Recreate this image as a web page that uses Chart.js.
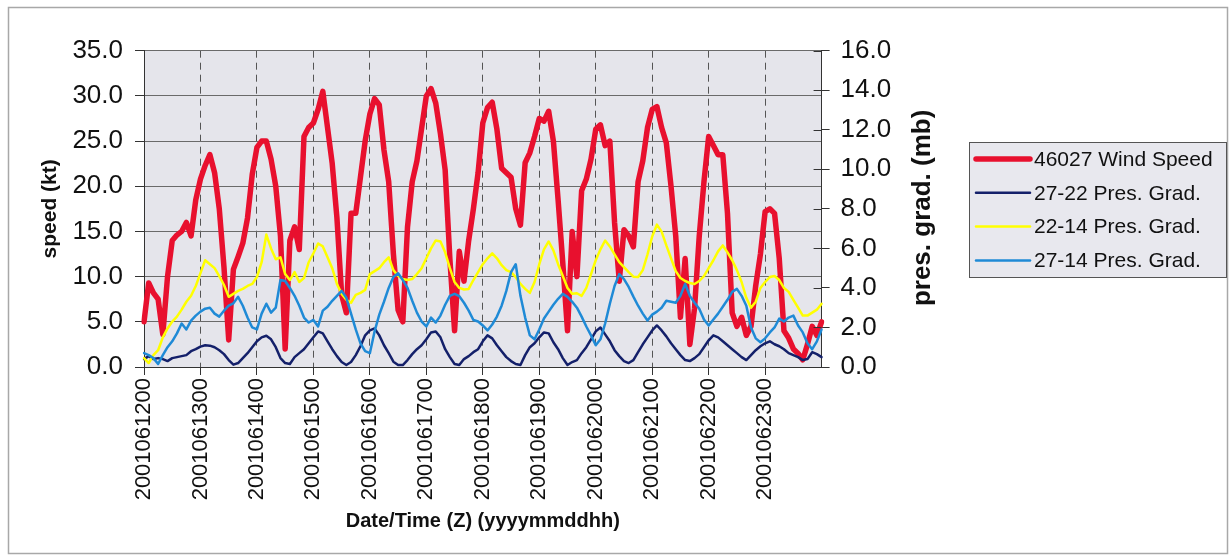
<!DOCTYPE html>
<html>
<head>
<meta charset="utf-8">
<script src="https://cdn.jsdelivr.net/npm/chart.js@4.4.1/dist/chart.umd.min.js"></script>
<style>
  html, body { margin: 0; padding: 0; background: #ffffff; }
  #wrap { width: 1232px; height: 560px; }
</style>
</head>
<body>
<div id="wrap"><canvas id="c" width="1232" height="560"></canvas></div>
<script>
// ---- tick labels (one per day) ----
const dayLabels = ['2001061200','2001061300','2001061400','2001061500','2001061600','2001061700',
                   '2001061800','2001061900','2001062000','2001062100','2001062200','2001062300'];
const hourLabels = ['00','02','04','06','08','10','12','14','16','18','20','22'];
const endLabel = '2001062400';

// ---- series values (every 2 hours) ----
const windSpeed = [ // kt
  5.0, 9.3, 8.2, 7.5, 3.6, 10.0, 14.0, 14.6, 15.0, 16.0, 14.5, 18.5,
  20.8, 22.3, 23.5, 21.5, 17.5, 11.0, 3.0, 10.8, 12.2, 13.7, 16.5, 21.3,
  24.3, 25.0, 25.0, 23.0, 20.0, 14.5, 2.0, 14.0, 15.5, 13.0, 25.5, 26.5,
  27.0, 28.5, 30.5, 26.5, 22.5, 16.5, 8.0, 6.0, 17.0, 17.0, 21.0, 25.0,
  28.0, 29.7, 29.0, 24.0, 20.5, 12.5, 6.3, 5.0, 15.5, 20.5, 22.8, 26.4,
  30.0, 30.8, 29.2, 25.8, 21.8, 12.0, 4.0, 12.8, 9.5, 14.0, 17.5, 21.5,
  27.0, 28.7, 29.3, 26.3, 22.0, 21.5, 21.0, 17.5, 15.7, 22.6, 23.7, 25.5,
  27.5, 27.2, 28.3, 25.0, 18.5, 11.5, 4.0, 15.0, 10.0, 19.5, 20.8, 23.0,
  26.3, 26.8, 24.5, 25.0, 16.0, 9.5, 15.2, 14.5, 13.3, 20.5, 22.8, 26.5,
  28.5, 28.8, 26.5, 24.8, 20.0, 14.5, 5.5, 12.0, 2.5, 6.5, 14.5, 20.5,
  25.5, 24.5, 23.5, 23.5, 17.0, 6.0, 4.5, 5.5, 3.5, 4.5, 9.0, 12.5,
  17.2, 17.5, 17.0, 12.0, 4.0, 3.2, 2.0, 1.5, 0.8, 2.5, 4.5, 3.5,
  5.0
];
const grad2722 = [ // mb
  0.4, 0.55, 0.4, 0.45, 0.4, 0.3, 0.45, 0.5, 0.55, 0.6, 0.8, 0.9,
  1.03, 1.1, 1.08, 1.0, 0.85, 0.65, 0.35, 0.12, 0.2, 0.45, 0.7, 1.0,
  1.3, 1.5, 1.58, 1.4, 1.0, 0.45, 0.2, 0.15, 0.5, 0.7, 0.9, 1.2,
  1.5, 1.8, 1.7, 1.3, 0.9, 0.55, 0.25, 0.1, 0.25, 0.6, 1.05, 1.6,
  1.85, 1.95, 1.6, 1.1, 0.7, 0.27, 0.1, 0.1, 0.35, 0.65, 0.9, 1.1,
  1.4, 1.75, 1.8, 1.5, 0.9, 0.5, 0.15, 0.1, 0.4, 0.55, 0.75, 0.9,
  1.3, 1.6, 1.45, 1.1, 0.8, 0.5, 0.3, 0.15, 0.1, 0.6, 1.0, 1.2,
  1.5, 1.75, 1.7, 1.25, 0.9, 0.45, 0.1, 0.25, 0.35, 0.7, 1.0, 1.4,
  1.8, 2.0, 1.65, 1.3, 0.85, 0.55, 0.3, 0.2, 0.35, 0.75, 1.15, 1.5,
  1.85, 2.1, 1.85, 1.55, 1.2, 0.9, 0.6, 0.35, 0.3, 0.45, 0.65, 1.0,
  1.35, 1.6, 1.5, 1.3, 1.1, 0.9, 0.7, 0.5, 0.35, 0.6, 0.85, 1.05,
  1.2, 1.3, 1.15, 1.05, 0.9, 0.7, 0.6, 0.5, 0.35, 0.4, 0.75, 0.65,
  0.5
];
const grad2214 = [ // mb
  0.45, 0.2, 0.6, 0.85, 1.5, 1.95, 2.3, 2.55, 2.9, 3.3, 3.6, 4.1,
  4.75, 5.4, 5.2, 5.0, 4.6, 4.15, 3.55, 3.7, 3.85, 3.95, 4.1, 4.2,
  4.55, 5.3, 6.7, 6.0, 5.45, 5.55, 4.7, 4.4, 4.8, 4.3, 4.5, 5.3,
  5.75, 6.25, 6.1, 5.55, 5.0, 4.2, 3.7, 3.4, 3.25, 3.65, 3.75, 3.9,
  4.7, 4.85, 5.0, 5.3, 5.55, 4.9, 4.6, 4.45, 4.4, 4.45, 4.7, 5.0,
  5.5, 6.0, 6.4, 6.35, 5.8, 5.0, 4.3, 4.0, 3.92, 3.95, 4.4, 4.8,
  5.2, 5.5, 5.75, 5.5, 5.15, 4.9, 4.8, 4.55, 4.2, 3.95, 3.75, 4.3,
  5.2, 5.95, 6.35, 5.9, 5.2, 4.6, 4.0, 3.7, 3.73, 3.6, 4.0, 4.7,
  5.4, 5.95, 6.4, 6.1, 5.7, 5.3, 5.05, 4.8, 4.57, 4.55, 4.9, 5.7,
  6.6, 7.2, 6.85, 6.15, 5.5, 4.85, 4.5, 4.35, 4.25, 4.2, 4.35, 4.6,
  5.0, 5.4, 5.85, 6.15, 5.8, 5.4, 4.9, 4.3, 3.5, 3.0, 3.3, 4.0,
  4.3, 4.55, 4.6, 4.4, 4.0, 3.8, 3.4, 3.0, 2.6, 2.6, 2.75, 2.9,
  3.2
];
const grad2714 = [ // mb
  0.7, 0.6, 0.45, 0.15, 0.6, 1.0, 1.3, 1.7, 2.2, 1.9, 2.35, 2.6,
  2.8, 2.95, 3.0, 2.7, 2.55, 2.85, 3.1, 3.22, 3.55, 3.1, 2.5, 2.0,
  1.9, 2.7, 3.2, 2.75, 3.0, 4.4, 4.35, 4.0, 3.6, 3.1, 2.5, 2.25,
  2.38, 2.05, 2.85, 3.05, 3.35, 3.6, 3.85, 3.5, 2.7, 1.9, 1.2, 0.8,
  0.7, 1.8, 2.65, 3.3, 4.0, 4.55, 4.74, 4.4, 4.0, 3.35, 2.75, 2.3,
  2.05, 2.5, 2.25, 2.6, 3.15, 3.6, 3.7, 3.58, 3.25, 2.85, 2.38, 2.3,
  2.1, 1.85, 2.15, 2.55, 3.1, 3.85, 4.8, 5.2, 3.6, 2.5, 1.6, 1.4,
  1.9, 2.45, 2.8, 3.15, 3.45, 3.7, 3.55, 3.3, 3.0, 2.55, 2.05, 1.6,
  1.1, 1.4, 2.2, 3.2, 4.1, 4.7, 4.45, 4.05, 3.56, 3.1, 2.7, 2.35,
  2.65, 2.8, 3.0, 3.35, 3.3, 3.25, 3.6, 4.2, 3.6, 3.25, 2.95, 2.4,
  2.1, 2.4, 2.7, 3.05, 3.4, 3.8, 3.95, 3.6, 3.1, 2.0, 1.45, 1.25,
  1.45, 1.75, 2.0, 2.45, 2.3, 2.5, 2.6, 2.1, 1.75, 1.2, 0.9, 1.3,
  1.9
];

// ---- categories: yyyymmddhh every 2 hours ----
const categories = [];
dayLabels.forEach(d => hourLabels.forEach(h => categories.push(d.slice(0, 8) + h)));
categories.push(endLabel);
const perDay = hourLabels.length;

const rightTitle = 'pres. grad. (mb)';
const FONT = '"Liberation Sans", Arial, Helvetica, sans-serif';
const TXT = '#111111';

const decorPlugin = {
  id: 'decor',
  beforeDraw(chart) {
    const { ctx, chartArea: a } = chart;
    ctx.save();
    ctx.fillStyle = '#ffffff';
    ctx.fillRect(0, 0, chart.width, chart.height);
    ctx.strokeStyle = '#a8a8a8';
    ctx.lineWidth = 1.5;
    ctx.strokeRect(8.5, 7.5, 1219, 546);
    ctx.fillStyle = '#e5e5eb';
    ctx.fillRect(a.left, a.top, a.right - a.left, a.bottom - a.top);
    ctx.restore();
  },
  afterDraw(chart) {
    const { ctx, chartArea: a } = chart;
    ctx.save();
    // inner half of the right-axis tick marks
    const s = chart.scales.y1;
    ctx.strokeStyle = '#333';
    ctx.lineWidth = 1;
    s.ticks.forEach(t => {
      const y = Math.round(s.getPixelForValue(t.value)) + 0.5;
      ctx.beginPath(); ctx.moveTo(a.right - 8, y); ctx.lineTo(a.right, y); ctx.stroke();
    });
    // right axis title, reading bottom-to-top
    ctx.save();
    ctx.translate(923, (a.top + a.bottom) / 2 - 1);
    ctx.rotate(-Math.PI / 2);
    ctx.fillStyle = TXT;
    ctx.font = 'bold 26px ' + FONT;
    ctx.textAlign = 'center';
    ctx.textBaseline = 'middle';
    ctx.fillText(rightTitle, 0, 0);
    ctx.restore();
    // legend box
    const x0 = 969, y0 = 142, w = 257, h = 135;
    ctx.fillStyle = '#e8e8ee';
    ctx.fillRect(x0, y0, w, h);
    ctx.strokeStyle = '#555';
    ctx.lineWidth = 1;
    ctx.strokeRect(x0 + 0.5, y0 + 0.5, w, h);
    chart.data.datasets.forEach((ds, k) => {
      const cy = 159 + k * 33.8;
      ctx.strokeStyle = ds.borderColor;
      ctx.lineWidth = ds.borderWidth;
      ctx.lineCap = 'round';
      ctx.beginPath(); ctx.moveTo(976, cy); ctx.lineTo(1030, cy); ctx.stroke();
      ctx.fillStyle = TXT;
      ctx.font = '21px ' + FONT;
      ctx.textBaseline = 'middle';
      ctx.textAlign = 'left';
      ctx.fillText(ds.label, 1034, cy + 1);
    });
    ctx.restore();
  }
};

new Chart(document.getElementById('c'), {
  type: 'line',
  data: {
    labels: categories,
    datasets: [
      { label: '46027 Wind Speed', data: windSpeed, yAxisID: 'y', borderColor: '#e8102e', borderWidth: 5.5, order: 4 },
      { label: '27-22 Pres. Grad.', data: grad2722, yAxisID: 'y1', borderColor: '#14206a', borderWidth: 2.5, order: 3 },
      { label: '22-14 Pres. Grad.', data: grad2214, yAxisID: 'y1', borderColor: '#ffff00', borderWidth: 2.5, order: 2 },
      { label: '27-14 Pres. Grad.', data: grad2714, yAxisID: 'y1', borderColor: '#1f8ad6', borderWidth: 2.5, order: 1 }
    ]
  },
  options: {
    responsive: false,
    animation: false,
    devicePixelRatio: 1,
    layout: { padding: { left: 33.4, right: 289.4, top: 50.7, bottom: 23 } },
    elements: {
      point: { radius: 0, hoverRadius: 0 },
      line: { tension: 0, borderJoinStyle: 'round', borderCapStyle: 'round', fill: false }
    },
    plugins: { legend: { display: false }, tooltip: { enabled: false } },
    scales: {
      x: {
        type: 'category',
        offset: false,
        afterBuildTicks: (scale) => {
          scale.ticks = scale.ticks.filter(t => t.value % perDay === 0 && t.value < categories.length - 1);
        },
        afterFit: (scale) => { scale.height = 170; },
        ticks: {
          autoSkip: false, maxRotation: 90, minRotation: 90, padding: 3,
          color: TXT, font: { family: FONT, size: 22 }
        },
        grid: { color: '#555', lineWidth: 1, tickLength: 8, tickColor: '#333', tickBorderDash: [] },
        border: { display: true, color: '#333', width: 1, dash: [7, 5] },
        title: { display: true, text: 'Date/Time (Z) (yyyymmddhh)', color: TXT,
                 font: { family: FONT, size: 20, weight: 'bold' }, padding: { top: 4, bottom: 4 } }
      },
      y: {
        position: 'left',
        min: 0, max: 35,
        afterFit: (scale) => { scale.width = 110.6; },
        ticks: { stepSize: 5, padding: 12, color: TXT, font: { family: FONT, size: 26 },
                 callback: v => Number(v).toFixed(1) },
        grid: { color: '#6a6a6a', lineWidth: 1, tickLength: 9, tickColor: '#333' },
        border: { display: true, color: '#333', width: 1 },
        title: { display: true, text: 'speed (kt)', color: TXT,
                 font: { family: FONT, size: 21, weight: 'bold' }, padding: { top: 4, bottom: 4 } }
      },
      y1: {
        position: 'right',
        min: 0, max: 16,
        afterFit: (scale) => { scale.width = 121; },
        ticks: { stepSize: 2, padding: 11, color: TXT, font: { family: FONT, size: 26 },
                 callback: v => Number(v).toFixed(1) },
        grid: { drawOnChartArea: false, tickLength: 8, tickColor: '#333' },
        border: { display: true, color: '#333', width: 1 },
        title: { display: false }
      }
    }
  },
  plugins: [decorPlugin]
});
</script>
</body>
</html>
